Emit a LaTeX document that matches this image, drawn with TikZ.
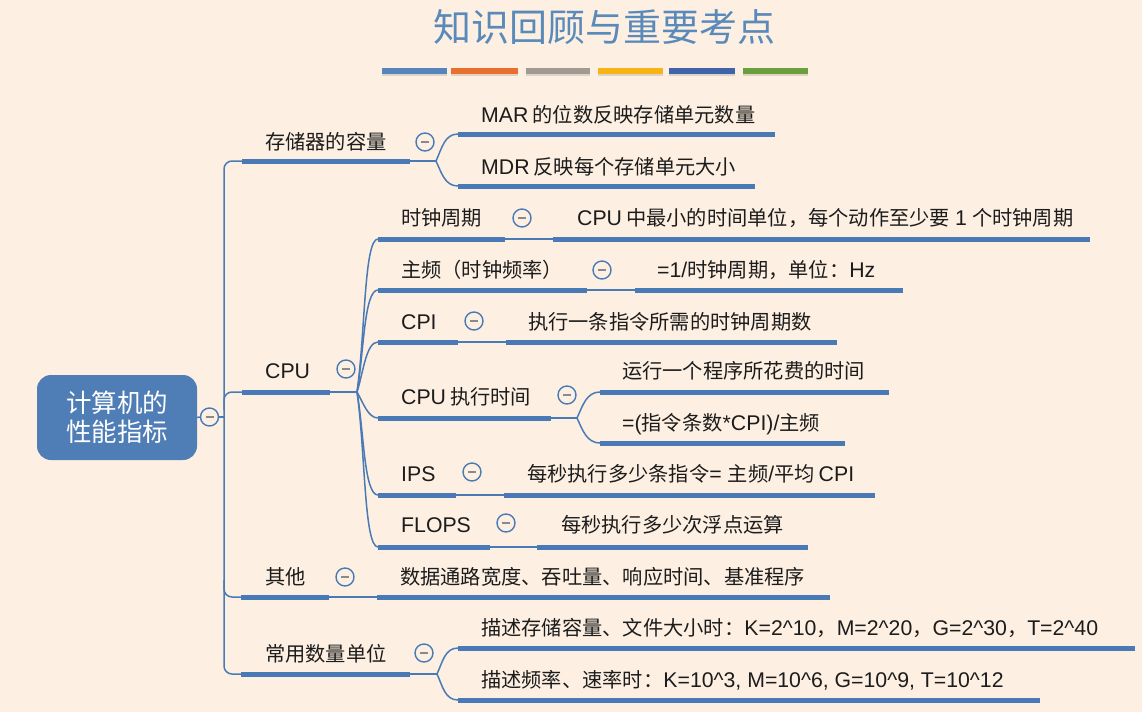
\documentclass[tikz,border=0pt]{standalone}
\usepackage{fontspec}
\setmainfont{Noto Sans CJK SC}
\newfontfamily\latf[Scale=1.05]{Liberation Sans}
\newcommand{\Lx}[1]{{\latf #1}}
\usetikzlibrary{calc,shadows}
\definecolor{bg}{HTML}{FDF0E2}
\definecolor{lb}{HTML}{4A7AB5}
\definecolor{rootc}{HTML}{4F7DB5}
\definecolor{tt}{HTML}{5A8AB9}
\definecolor{txt}{HTML}{1C1C1C}
\definecolor{mg}{HTML}{8A8A8A}
\definecolor{c1}{HTML}{5585BC}
\definecolor{c2}{HTML}{E8702C}
\definecolor{c3}{HTML}{A09A92}
\definecolor{c4}{HTML}{F8B414}
\definecolor{c5}{HTML}{3F64AA}
\definecolor{c6}{HTML}{6B9E3C}
\begin{document}
\begin{tikzpicture}[x=1pt,y=1pt,
  bar/.style={rectangle, fill=lb, draw=none, minimum height=5pt, inner sep=0pt, anchor=west},
  cbar/.style={rectangle, draw=none, minimum height=6pt, inner sep=0pt, anchor=west,
    drop shadow={shadow xshift=0pt, shadow yshift=-1.5pt, opacity=0.25}},
  conn/.style={draw=lb, line width=1.5pt},
  lbl/.style={anchor=west, inner sep=0pt, text=txt, font=\fontsize{20.25pt}{23pt}\selectfont, text height=17.5pt, text depth=2pt},
  btn/.style={circle, draw=lb, line width=1.4pt, fill=bg, minimum size=18pt, inner sep=0pt,
    path picture={\draw[mg, line width=1.8pt] ([xshift=-4pt]path picture bounding box.center) -- ([xshift=4pt]path picture bounding box.center);}}
]
\fill[bg] (0,0) rectangle (1142,-712);
\useasboundingbox (0,0) rectangle (1142,-712);

% title
\node[text=tt, inner sep=0pt, font=\fontsize{38pt}{40pt}\selectfont] (title) at (604,-27) {知识回顾与重要考点};
\node[cbar, fill=c1, minimum width=65pt] (k1) at (382,-71) {};
\node[cbar, fill=c2, minimum width=67pt] (k2) at (451,-71) {};
\node[cbar, fill=c3, minimum width=64pt] (k3) at (526,-71) {};
\node[cbar, fill=c4, minimum width=65pt] (k4) at (598,-71) {};
\node[cbar, fill=c5, minimum width=66pt] (k5) at (669,-71) {};
\node[cbar, fill=c6, minimum width=65pt] (k6) at (743,-71) {};

% root
\node[rectangle, rounded corners=14pt, fill=rootc, text=white, minimum width=160pt, minimum height=85pt,
  align=center, font=\fontsize{25.5pt}{29pt}\selectfont] (root) at (117,-417.5) {计算机的\\性能指标};
\node[btn] (rb) at (209.5,-417) {};

% ---- level 1 bars
\node[bar, minimum width=168pt] (A) at (242,-161) {};
\node[bar, minimum width=88pt] (B) at (242,-392) {};
\node[bar, minimum width=88pt] (C) at (241,-597) {};
\node[bar, minimum width=169pt] (D) at (241,-674) {};

\node[lbl] (At) at (265,-142) {存储器的容量};
\node[lbl] (Bt) at (265,-371) {\Lx{CPU}};
\node[lbl] (Ct) at (265,-577) {其他};
\node[lbl] (Dt) at (265,-654) {常用数量单位};

\node[btn] (Ab) at (425,-142) {};
\node[btn] (Bb) at (346,-369) {};
\node[btn] (Cb) at (345,-577) {};
\node[btn] (Db) at (424,-653) {};

% ---- storage children
\node[bar, minimum width=317pt] (A1) at (458,-134) {};
\node[bar, minimum width=297pt] (A2) at (458,-186) {};
\node[lbl] (A1t) at (481,-115) {\Lx{MAR}\hspace{.2em}的位数反映存储单元数量};
\node[lbl] (A2t) at (481,-167) {\Lx{MDR}\hspace{.2em}反映每个存储单元大小};

% ---- CPU children
\node[bar, minimum width=127pt] (B1) at (378,-239) {};
\node[bar, minimum width=209pt] (B2) at (378,-290) {};
\node[bar, minimum width=80pt]  (B3) at (378,-342) {};
\node[bar, minimum width=173pt] (B4) at (378,-418) {};
\node[bar, minimum width=78pt]  (B5) at (378,-495) {};
\node[bar, minimum width=112pt] (B6) at (378,-547) {};

\node[lbl] (B1t) at (401,-218) {时钟周期};
\node[lbl] (B2t) at (401,-270) {主频（时钟频率）};
\node[lbl] (B3t) at (401,-322) {\Lx{CPI}};
\node[lbl] (B4t) at (401,-397) {\Lx{CPU}\hspace{.2em}执行时间};
\node[lbl] (B5t) at (401,-474) {\Lx{IPS}};
\node[lbl] (B6t) at (401,-525) {\Lx{FLOPS}};

\node[btn] (B1b) at (522,-218) {};
\node[btn] (B2b) at (602,-270) {};
\node[btn] (B3b) at (474,-321) {};
\node[btn] (B4b) at (567,-395) {};
\node[btn] (B5b) at (472,-472) {};
\node[btn] (B6b) at (506,-523) {};

\node[bar, minimum width=537pt] (B1a) at (553,-239) {};
\node[bar, minimum width=268pt] (B2a) at (635,-290) {};
\node[bar, minimum width=331pt] (B3a) at (506,-342) {};
\node[bar, minimum width=289pt] (B4a) at (600,-392) {};
\node[bar, minimum width=245pt] (B4c) at (600,-443) {};
\node[bar, minimum width=371pt] (B5a) at (504,-495) {};
\node[bar, minimum width=271pt] (B6a) at (537,-547) {};

\node[lbl] (B1at) at (577,-218) {\Lx{CPU}\hspace{.2em}中最小的时间单位，每个动作至少要\hspace{.25em}\Lx{1}\hspace{.25em}个时钟周期};
\node[lbl] (B2at) at (657,-270) {\Lx{=1/}时钟周期，单位：\Lx{Hz}};
\node[lbl] (B3at) at (528,-322) {执行一条指令所需的时钟周期数};
\node[lbl] (B4at) at (622,-371) {运行一个程序所花费的时间};
\node[lbl] (B4ct) at (622,-423) {\Lx{=(}指令条数\Lx{*CPI)/}主频};
\node[lbl] (B5at) at (527,-474) {每秒执行多少条指令\Lx{= }主频\Lx{/}平均\hspace{.2em}\Lx{CPI}};
\node[lbl] (B6at) at (561,-525) {每秒执行多少次浮点运算};

% ---- other
\node[bar, minimum width=453pt] (C1) at (377,-597) {};
\node[lbl] (C1t) at (400,-577) {数据通路宽度、吞吐量、响应时间、基准程序};

% ---- units
\node[bar, minimum width=677pt] (D1) at (458,-648) {};
\node[bar, minimum width=582pt] (D2) at (458,-700) {};
\node[lbl] (D1t) at (481,-628) {描述存储容量、文件大小时：\Lx{K=2\textasciicircum10}，\Lx{M=2\textasciicircum20}，\Lx{G=2\textasciicircum30}，\Lx{T=2\textasciicircum40}};
\node[lbl] (D2t) at (481,-680) {描述频率、速率时：\Lx{K=10\textasciicircum3, M=10\textasciicircum6, G=10\textasciicircum9, T=10\textasciicircum12}};

% ---- coordinates
\coordinate (tA) at (224,-161);
\coordinate (tB) at (224,-392);
\coordinate (tR) at (224,-417);
\coordinate (tC) at (224,-597);
\coordinate (tD) at (224,-674);
\coordinate (tBu) at (224,-410);
\coordinate (tCu) at (224,-580);
\coordinate (Af) at (436,-161);
\coordinate (Bf) at (357,-392);
\coordinate (B4f) at (577,-418);
\coordinate (Df) at (437,-674);

% ---- connectors
\draw[conn] (root.east) -- (rb.west);
\draw[conn] (rb.east) -- (tR);
\draw[conn, rounded corners=8pt] (A.west) -- (tA) -- (tD) -- (D.west);
\draw[conn, rounded corners=8pt] (tBu) -- (tB) -- (B.west);
\draw[conn, rounded corners=8pt] (tCu) -- (tC) -- (C.west);

\draw[conn] (A.east) -- (Af);
\draw[conn] (Af) to[out=65, in=180] (A1.west);
\draw[conn] (Af) to[out=-65, in=180] (A2.west);

\draw[conn] (B.east) -- (Bf);
\draw[conn] (Bf) to[out=82, in=180, out distance=60pt, in distance=14pt] (B1.west);
\draw[conn] (Bf) to[out=80, in=180, out distance=40pt, in distance=14pt] (B2.west);
\draw[conn] (Bf) to[out=72, in=180, out distance=20pt, in distance=12pt] (B3.west);
\draw[conn] (Bf) to[out=-60, in=180, out distance=12pt, in distance=10pt] (B4.west);
\draw[conn] (Bf) to[out=-80, in=180, out distance=40pt, in distance=14pt] (B5.west);
\draw[conn] (Bf) to[out=-82, in=180, out distance=60pt, in distance=14pt] (B6.west);

\draw[conn] (B1.east) -- (B1a.west);
\draw[conn] (B2.east) -- (B2a.west);
\draw[conn] (B3.east) -- (B3a.west);
\draw[conn] (B4.east) -- (B4f);
\draw[conn] (B4f) to[out=65, in=180] (B4a.west);
\draw[conn] (B4f) to[out=-65, in=180] (B4c.west);
\draw[conn] (B5.east) -- (B5a.west);
\draw[conn] (B6.east) -- (B6a.west);

\draw[conn] (C.east) -- (C1.west);

\draw[conn] (D.east) -- (Df);
\draw[conn] (Df) to[out=65, in=180] (D1.west);
\draw[conn] (Df) to[out=-65, in=180] (D2.west);
\end{tikzpicture}
\end{document}
